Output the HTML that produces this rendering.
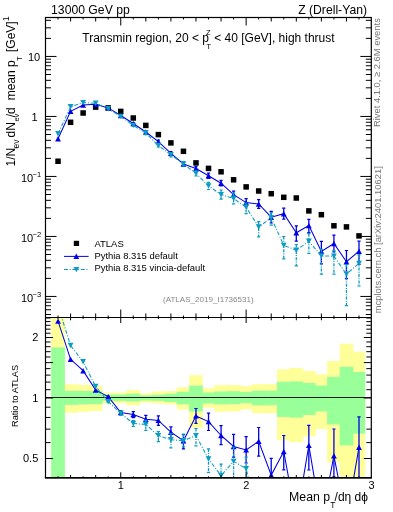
<!DOCTYPE html><html><head><meta charset="utf-8"><style>html,body{margin:0;padding:0;background:#fff;}svg{display:block;will-change:transform;}</style></head><body>
<svg width="393" height="512" viewBox="0 0 393 512">
<rect x="0" y="0" width="393" height="512" fill="#fff"/>
<g>
<rect x="51.22" y="317.50" width="13.64" height="160.50" fill="#ffff99"/>
<rect x="63.76" y="384.20" width="13.64" height="28.70" fill="#ffff99"/>
<rect x="76.30" y="384.90" width="13.64" height="27.00" fill="#ffff99"/>
<rect x="88.84" y="385.80" width="13.64" height="25.20" fill="#ffff99"/>
<rect x="101.38" y="392.40" width="13.64" height="10.80" fill="#ffff99"/>
<rect x="113.92" y="392.40" width="13.64" height="10.80" fill="#ffff99"/>
<rect x="126.46" y="389.90" width="13.64" height="15.50" fill="#ffff99"/>
<rect x="139.00" y="393.40" width="13.64" height="9.20" fill="#ffff99"/>
<rect x="151.54" y="391.40" width="13.64" height="12.20" fill="#ffff99"/>
<rect x="164.08" y="391.00" width="13.64" height="13.40" fill="#ffff99"/>
<rect x="176.62" y="387.20" width="13.64" height="22.30" fill="#ffff99"/>
<rect x="189.16" y="375.10" width="13.64" height="52.60" fill="#ffff99"/>
<rect x="201.70" y="388.20" width="13.64" height="19.40" fill="#ffff99"/>
<rect x="214.24" y="385.10" width="13.64" height="26.50" fill="#ffff99"/>
<rect x="226.78" y="385.00" width="13.64" height="26.50" fill="#ffff99"/>
<rect x="239.32" y="386.00" width="13.64" height="23.40" fill="#ffff99"/>
<rect x="251.86" y="384.20" width="13.64" height="29.00" fill="#ffff99"/>
<rect x="264.40" y="384.20" width="13.64" height="29.00" fill="#ffff99"/>
<rect x="276.94" y="369.40" width="13.64" height="70.80" fill="#ffff99"/>
<rect x="289.48" y="368.00" width="13.64" height="74.00" fill="#ffff99"/>
<rect x="302.02" y="371.00" width="13.64" height="65.30" fill="#ffff99"/>
<rect x="314.56" y="374.20" width="13.64" height="54.80" fill="#ffff99"/>
<rect x="327.10" y="361.00" width="13.64" height="101.30" fill="#ffff99"/>
<rect x="339.64" y="343.70" width="13.64" height="134.30" fill="#ffff99"/>
<rect x="352.18" y="351.60" width="12.99" height="126.40" fill="#ffff99"/>
<rect x="51.22" y="347.40" width="13.64" height="130.60" fill="#99ff99"/>
<rect x="63.76" y="390.90" width="13.64" height="14.00" fill="#99ff99"/>
<rect x="76.30" y="390.90" width="13.64" height="13.60" fill="#99ff99"/>
<rect x="88.84" y="391.20" width="13.64" height="13.00" fill="#99ff99"/>
<rect x="101.38" y="394.60" width="13.64" height="6.20" fill="#99ff99"/>
<rect x="113.92" y="394.60" width="13.64" height="6.20" fill="#99ff99"/>
<rect x="126.46" y="393.70" width="13.64" height="7.80" fill="#99ff99"/>
<rect x="139.00" y="395.40" width="13.64" height="5.10" fill="#99ff99"/>
<rect x="151.54" y="394.80" width="13.64" height="6.00" fill="#99ff99"/>
<rect x="164.08" y="393.80" width="13.64" height="8.10" fill="#99ff99"/>
<rect x="176.62" y="391.80" width="13.64" height="12.60" fill="#99ff99"/>
<rect x="189.16" y="385.60" width="13.64" height="25.90" fill="#99ff99"/>
<rect x="201.70" y="392.50" width="13.64" height="11.00" fill="#99ff99"/>
<rect x="214.24" y="391.50" width="13.64" height="12.90" fill="#99ff99"/>
<rect x="226.78" y="391.20" width="13.64" height="13.10" fill="#99ff99"/>
<rect x="239.32" y="392.00" width="13.64" height="11.30" fill="#99ff99"/>
<rect x="251.86" y="390.70" width="13.64" height="14.60" fill="#99ff99"/>
<rect x="264.40" y="390.70" width="13.64" height="14.60" fill="#99ff99"/>
<rect x="276.94" y="381.80" width="13.64" height="35.10" fill="#99ff99"/>
<rect x="289.48" y="381.40" width="13.64" height="36.20" fill="#99ff99"/>
<rect x="302.02" y="383.00" width="13.64" height="32.00" fill="#99ff99"/>
<rect x="314.56" y="385.50" width="13.64" height="26.00" fill="#99ff99"/>
<rect x="327.10" y="376.80" width="13.64" height="47.70" fill="#99ff99"/>
<rect x="339.64" y="366.70" width="13.64" height="78.70" fill="#99ff99"/>
<rect x="352.18" y="372.00" width="12.99" height="61.70" fill="#99ff99"/>
</g>
<line x1="45.5" y1="397.5" x2="371.3" y2="397.5" stroke="#1a1a1a" stroke-width="1.0"/>
<clipPath id="cr"><rect x="45.5" y="317.5" width="325.8" height="160.3"/></clipPath>
<clipPath id="cm"><rect x="45.5" y="17.5" width="325.8" height="300.0"/></clipPath>
<g clip-path="url(#cr)">
<polyline points="58.04,321.10 70.58,359.30 83.12,370.70 95.66,390.10 108.20,396.60 120.74,412.50 133.28,414.60 145.82,419.30 158.36,420.40 170.90,432.20 183.44,440.70 195.98,415.90 208.52,421.60 221.06,435.50 233.60,446.50 246.14,449.90 258.68,441.20 271.22,475.10 283.76,451.50 296.30,520.00 308.84,445.40 321.38,520.00 333.92,455.80 346.46,520.00 359.00,447.20" fill="none" stroke="#0000e6" stroke-width="1.05"/>

<path d="M55.14,323.80 L60.94,323.80 L58.04,318.40 Z" fill="#0000e6"/>

<path d="M67.68,362.00 L73.48,362.00 L70.58,356.60 Z" fill="#0000e6"/>

<path d="M80.22,373.40 L86.02,373.40 L83.12,368.00 Z" fill="#0000e6"/>

<path d="M92.76,392.80 L98.56,392.80 L95.66,387.40 Z" fill="#0000e6"/>
<line x1="108.20" y1="396.10" x2="108.20" y2="397.10" stroke="#0000e6" stroke-width="1.3"/><line x1="106.60" y1="396.10" x2="109.80" y2="396.10" stroke="#0000e6" stroke-width="1.2"/><line x1="106.60" y1="397.10" x2="109.80" y2="397.10" stroke="#0000e6" stroke-width="1.2"/>
<path d="M105.30,399.30 L111.10,399.30 L108.20,393.90 Z" fill="#0000e6"/>
<line x1="120.74" y1="410.50" x2="120.74" y2="414.50" stroke="#0000e6" stroke-width="1.3"/><line x1="119.14" y1="410.50" x2="122.34" y2="410.50" stroke="#0000e6" stroke-width="1.2"/><line x1="119.14" y1="414.50" x2="122.34" y2="414.50" stroke="#0000e6" stroke-width="1.2"/>
<path d="M117.84,415.20 L123.64,415.20 L120.74,409.80 Z" fill="#0000e6"/>
<line x1="133.28" y1="411.60" x2="133.28" y2="417.60" stroke="#0000e6" stroke-width="1.3"/><line x1="131.68" y1="411.60" x2="134.88" y2="411.60" stroke="#0000e6" stroke-width="1.2"/><line x1="131.68" y1="417.60" x2="134.88" y2="417.60" stroke="#0000e6" stroke-width="1.2"/>
<path d="M130.38,417.30 L136.18,417.30 L133.28,411.90 Z" fill="#0000e6"/>
<line x1="145.82" y1="415.30" x2="145.82" y2="423.30" stroke="#0000e6" stroke-width="1.3"/><line x1="144.22" y1="415.30" x2="147.42" y2="415.30" stroke="#0000e6" stroke-width="1.2"/><line x1="144.22" y1="423.30" x2="147.42" y2="423.30" stroke="#0000e6" stroke-width="1.2"/>
<path d="M142.92,422.00 L148.72,422.00 L145.82,416.60 Z" fill="#0000e6"/>
<line x1="158.36" y1="415.90" x2="158.36" y2="425.40" stroke="#0000e6" stroke-width="1.3"/><line x1="156.76" y1="415.90" x2="159.96" y2="415.90" stroke="#0000e6" stroke-width="1.2"/><line x1="156.76" y1="425.40" x2="159.96" y2="425.40" stroke="#0000e6" stroke-width="1.2"/>
<path d="M155.46,423.10 L161.26,423.10 L158.36,417.70 Z" fill="#0000e6"/>
<line x1="170.90" y1="426.90" x2="170.90" y2="437.70" stroke="#0000e6" stroke-width="1.3"/><line x1="169.30" y1="426.90" x2="172.50" y2="426.90" stroke="#0000e6" stroke-width="1.2"/><line x1="169.30" y1="437.70" x2="172.50" y2="437.70" stroke="#0000e6" stroke-width="1.2"/>
<path d="M168.00,434.90 L173.80,434.90 L170.90,429.50 Z" fill="#0000e6"/>
<line x1="183.44" y1="434.60" x2="183.44" y2="448.90" stroke="#0000e6" stroke-width="1.3"/><line x1="181.84" y1="434.60" x2="185.04" y2="434.60" stroke="#0000e6" stroke-width="1.2"/><line x1="181.84" y1="448.90" x2="185.04" y2="448.90" stroke="#0000e6" stroke-width="1.2"/>
<path d="M180.54,443.40 L186.34,443.40 L183.44,438.00 Z" fill="#0000e6"/>
<line x1="195.98" y1="408.50" x2="195.98" y2="423.40" stroke="#0000e6" stroke-width="1.3"/><line x1="194.38" y1="408.50" x2="197.58" y2="408.50" stroke="#0000e6" stroke-width="1.2"/><line x1="194.38" y1="423.40" x2="197.58" y2="423.40" stroke="#0000e6" stroke-width="1.2"/>
<path d="M193.08,418.60 L198.88,418.60 L195.98,413.20 Z" fill="#0000e6"/>
<line x1="208.52" y1="413.10" x2="208.52" y2="430.50" stroke="#0000e6" stroke-width="1.3"/><line x1="206.92" y1="413.10" x2="210.12" y2="413.10" stroke="#0000e6" stroke-width="1.2"/><line x1="206.92" y1="430.50" x2="210.12" y2="430.50" stroke="#0000e6" stroke-width="1.2"/>
<path d="M205.62,424.30 L211.42,424.30 L208.52,418.90 Z" fill="#0000e6"/>
<line x1="221.06" y1="425.60" x2="221.06" y2="444.70" stroke="#0000e6" stroke-width="1.3"/><line x1="219.46" y1="425.60" x2="222.66" y2="425.60" stroke="#0000e6" stroke-width="1.2"/><line x1="219.46" y1="444.70" x2="222.66" y2="444.70" stroke="#0000e6" stroke-width="1.2"/>
<path d="M218.16,438.20 L223.96,438.20 L221.06,432.80 Z" fill="#0000e6"/>
<line x1="233.60" y1="434.30" x2="233.60" y2="457.20" stroke="#0000e6" stroke-width="1.3"/><line x1="232.00" y1="434.30" x2="235.20" y2="434.30" stroke="#0000e6" stroke-width="1.2"/><line x1="232.00" y1="457.20" x2="235.20" y2="457.20" stroke="#0000e6" stroke-width="1.2"/>
<path d="M230.70,449.20 L236.50,449.20 L233.60,443.80 Z" fill="#0000e6"/>
<line x1="246.14" y1="436.60" x2="246.14" y2="463.00" stroke="#0000e6" stroke-width="1.3"/><line x1="244.54" y1="436.60" x2="247.74" y2="436.60" stroke="#0000e6" stroke-width="1.2"/><line x1="244.54" y1="463.00" x2="247.74" y2="463.00" stroke="#0000e6" stroke-width="1.2"/>
<path d="M243.24,452.60 L249.04,452.60 L246.14,447.20 Z" fill="#0000e6"/>
<line x1="258.68" y1="427.50" x2="258.68" y2="456.10" stroke="#0000e6" stroke-width="1.3"/><line x1="257.08" y1="427.50" x2="260.28" y2="427.50" stroke="#0000e6" stroke-width="1.2"/><line x1="257.08" y1="456.10" x2="260.28" y2="456.10" stroke="#0000e6" stroke-width="1.2"/>
<path d="M255.78,443.90 L261.58,443.90 L258.68,438.50 Z" fill="#0000e6"/>
<line x1="271.22" y1="458.40" x2="271.22" y2="495.10" stroke="#0000e6" stroke-width="1.3"/><line x1="269.62" y1="458.40" x2="272.82" y2="458.40" stroke="#0000e6" stroke-width="1.2"/><line x1="269.62" y1="495.10" x2="272.82" y2="495.10" stroke="#0000e6" stroke-width="1.2"/>
<path d="M268.32,477.80 L274.12,477.80 L271.22,472.40 Z" fill="#0000e6"/>
<line x1="283.76" y1="435.50" x2="283.76" y2="469.80" stroke="#0000e6" stroke-width="1.3"/><line x1="282.16" y1="435.50" x2="285.36" y2="435.50" stroke="#0000e6" stroke-width="1.2"/><line x1="282.16" y1="469.80" x2="285.36" y2="469.80" stroke="#0000e6" stroke-width="1.2"/>
<path d="M280.86,454.20 L286.66,454.20 L283.76,448.80 Z" fill="#0000e6"/>
<line x1="308.84" y1="425.40" x2="308.84" y2="470.00" stroke="#0000e6" stroke-width="1.3"/><line x1="307.24" y1="425.40" x2="310.44" y2="425.40" stroke="#0000e6" stroke-width="1.2"/><line x1="307.24" y1="470.00" x2="310.44" y2="470.00" stroke="#0000e6" stroke-width="1.2"/>
<path d="M305.94,448.10 L311.74,448.10 L308.84,442.70 Z" fill="#0000e6"/>
<line x1="333.92" y1="429.00" x2="333.92" y2="476.80" stroke="#0000e6" stroke-width="1.3"/><line x1="332.32" y1="429.00" x2="335.52" y2="429.00" stroke="#0000e6" stroke-width="1.2"/><line x1="332.32" y1="476.80" x2="335.52" y2="476.80" stroke="#0000e6" stroke-width="1.2"/>
<path d="M331.02,458.50 L336.82,458.50 L333.92,453.10 Z" fill="#0000e6"/>
<line x1="359.00" y1="416.90" x2="359.00" y2="487.20" stroke="#0000e6" stroke-width="1.3"/><line x1="357.40" y1="416.90" x2="360.60" y2="416.90" stroke="#0000e6" stroke-width="1.2"/><line x1="357.40" y1="487.20" x2="360.60" y2="487.20" stroke="#0000e6" stroke-width="1.2"/>
<path d="M356.10,449.90 L361.90,449.90 L359.00,444.50 Z" fill="#0000e6"/>
<polyline points="58.04,305.90 70.58,345.50 83.12,361.80 95.66,386.50 108.20,401.70 120.74,413.30 133.28,423.50 145.82,424.40 158.36,435.60 170.90,439.70 183.44,440.70 195.98,435.60 208.52,459.00 221.06,475.60 233.60,461.40 246.14,468.70 258.68,518.60 271.22,478.40 283.76,500.00 296.30,500.00 308.84,500.00 321.38,500.00 333.92,500.00 346.46,500.00 359.00,500.00" fill="none" stroke="#0c9cc2" stroke-width="1.05" stroke-dasharray="4,1.7,1,1.7"/>

<path d="M67.68,342.80 L73.48,342.80 L70.58,348.20 Z" fill="#0c9cc2"/>

<path d="M80.22,359.10 L86.02,359.10 L83.12,364.50 Z" fill="#0c9cc2"/>

<path d="M92.76,383.80 L98.56,383.80 L95.66,389.20 Z" fill="#0c9cc2"/>
<line x1="108.20" y1="401.20" x2="108.20" y2="402.20" stroke="#0c9cc2" stroke-width="1.3" stroke-dasharray="3,1.2,1,1.2"/><line x1="106.60" y1="401.20" x2="109.80" y2="401.20" stroke="#0c9cc2" stroke-width="1.2"/><line x1="106.60" y1="402.20" x2="109.80" y2="402.20" stroke="#0c9cc2" stroke-width="1.2"/>
<path d="M105.30,399.00 L111.10,399.00 L108.20,404.40 Z" fill="#0c9cc2"/>
<line x1="120.74" y1="411.30" x2="120.74" y2="415.30" stroke="#0c9cc2" stroke-width="1.3" stroke-dasharray="3,1.2,1,1.2"/><line x1="119.14" y1="411.30" x2="122.34" y2="411.30" stroke="#0c9cc2" stroke-width="1.2"/><line x1="119.14" y1="415.30" x2="122.34" y2="415.30" stroke="#0c9cc2" stroke-width="1.2"/>
<path d="M117.84,410.60 L123.64,410.60 L120.74,416.00 Z" fill="#0c9cc2"/>
<line x1="133.28" y1="420.50" x2="133.28" y2="426.50" stroke="#0c9cc2" stroke-width="1.3" stroke-dasharray="3,1.2,1,1.2"/><line x1="131.68" y1="420.50" x2="134.88" y2="420.50" stroke="#0c9cc2" stroke-width="1.2"/><line x1="131.68" y1="426.50" x2="134.88" y2="426.50" stroke="#0c9cc2" stroke-width="1.2"/>
<path d="M130.38,420.80 L136.18,420.80 L133.28,426.20 Z" fill="#0c9cc2"/>
<line x1="145.82" y1="420.40" x2="145.82" y2="430.50" stroke="#0c9cc2" stroke-width="1.3" stroke-dasharray="3,1.2,1,1.2"/><line x1="144.22" y1="420.40" x2="147.42" y2="420.40" stroke="#0c9cc2" stroke-width="1.2"/><line x1="144.22" y1="430.50" x2="147.42" y2="430.50" stroke="#0c9cc2" stroke-width="1.2"/>
<path d="M142.92,421.70 L148.72,421.70 L145.82,427.10 Z" fill="#0c9cc2"/>
<line x1="158.36" y1="431.60" x2="158.36" y2="441.70" stroke="#0c9cc2" stroke-width="1.3" stroke-dasharray="3,1.2,1,1.2"/><line x1="156.76" y1="431.60" x2="159.96" y2="431.60" stroke="#0c9cc2" stroke-width="1.2"/><line x1="156.76" y1="441.70" x2="159.96" y2="441.70" stroke="#0c9cc2" stroke-width="1.2"/>
<path d="M155.46,432.90 L161.26,432.90 L158.36,438.30 Z" fill="#0c9cc2"/>
<line x1="170.90" y1="433.60" x2="170.90" y2="447.80" stroke="#0c9cc2" stroke-width="1.3" stroke-dasharray="3,1.2,1,1.2"/><line x1="169.30" y1="433.60" x2="172.50" y2="433.60" stroke="#0c9cc2" stroke-width="1.2"/><line x1="169.30" y1="447.80" x2="172.50" y2="447.80" stroke="#0c9cc2" stroke-width="1.2"/>
<path d="M168.00,437.00 L173.80,437.00 L170.90,442.40 Z" fill="#0c9cc2"/>
<line x1="183.44" y1="434.20" x2="183.44" y2="446.80" stroke="#0c9cc2" stroke-width="1.3" stroke-dasharray="3,1.2,1,1.2"/><line x1="181.84" y1="434.20" x2="185.04" y2="434.20" stroke="#0c9cc2" stroke-width="1.2"/><line x1="181.84" y1="446.80" x2="185.04" y2="446.80" stroke="#0c9cc2" stroke-width="1.2"/>
<path d="M180.54,438.00 L186.34,438.00 L183.44,443.40 Z" fill="#0c9cc2"/>
<line x1="195.98" y1="428.50" x2="195.98" y2="445.80" stroke="#0c9cc2" stroke-width="1.3" stroke-dasharray="3,1.2,1,1.2"/><line x1="194.38" y1="428.50" x2="197.58" y2="428.50" stroke="#0c9cc2" stroke-width="1.2"/><line x1="194.38" y1="445.80" x2="197.58" y2="445.80" stroke="#0c9cc2" stroke-width="1.2"/>
<path d="M193.08,432.90 L198.88,432.90 L195.98,438.30 Z" fill="#0c9cc2"/>
<line x1="208.52" y1="448.90" x2="208.52" y2="472.30" stroke="#0c9cc2" stroke-width="1.3" stroke-dasharray="3,1.2,1,1.2"/><line x1="206.92" y1="448.90" x2="210.12" y2="448.90" stroke="#0c9cc2" stroke-width="1.2"/><line x1="206.92" y1="472.30" x2="210.12" y2="472.30" stroke="#0c9cc2" stroke-width="1.2"/>
<path d="M205.62,456.30 L211.42,456.30 L208.52,461.70 Z" fill="#0c9cc2"/>
<line x1="221.06" y1="464.10" x2="221.06" y2="495.60" stroke="#0c9cc2" stroke-width="1.3" stroke-dasharray="3,1.2,1,1.2"/><line x1="219.46" y1="464.10" x2="222.66" y2="464.10" stroke="#0c9cc2" stroke-width="1.2"/><line x1="219.46" y1="495.60" x2="222.66" y2="495.60" stroke="#0c9cc2" stroke-width="1.2"/>
<path d="M218.16,472.90 L223.96,472.90 L221.06,478.30 Z" fill="#0c9cc2"/>
<line x1="233.60" y1="447.00" x2="233.60" y2="481.40" stroke="#0c9cc2" stroke-width="1.3" stroke-dasharray="3,1.2,1,1.2"/><line x1="232.00" y1="447.00" x2="235.20" y2="447.00" stroke="#0c9cc2" stroke-width="1.2"/><line x1="232.00" y1="481.40" x2="235.20" y2="481.40" stroke="#0c9cc2" stroke-width="1.2"/>
<path d="M230.70,458.70 L236.50,458.70 L233.60,464.10 Z" fill="#0c9cc2"/>
<line x1="246.14" y1="457.20" x2="246.14" y2="488.70" stroke="#0c9cc2" stroke-width="1.3" stroke-dasharray="3,1.2,1,1.2"/><line x1="244.54" y1="457.20" x2="247.74" y2="457.20" stroke="#0c9cc2" stroke-width="1.2"/><line x1="244.54" y1="488.70" x2="247.74" y2="488.70" stroke="#0c9cc2" stroke-width="1.2"/>
<path d="M243.24,466.00 L249.04,466.00 L246.14,471.40 Z" fill="#0c9cc2"/>
</g>
<g clip-path="url(#cm)">
<rect x="55.29" y="158.50" width="5.5" height="5.5" fill="#000"/>
<rect x="67.83" y="119.55" width="5.5" height="5.5" fill="#000"/>
<rect x="80.37" y="110.25" width="5.5" height="5.5" fill="#000"/>
<rect x="92.91" y="104.35" width="5.5" height="5.5" fill="#000"/>
<rect x="105.45" y="105.15" width="5.5" height="5.5" fill="#000"/>
<rect x="117.99" y="108.65" width="5.5" height="5.5" fill="#000"/>
<rect x="130.53" y="115.25" width="5.5" height="5.5" fill="#000"/>
<rect x="143.07" y="122.65" width="5.5" height="5.5" fill="#000"/>
<rect x="155.61" y="131.85" width="5.5" height="5.5" fill="#000"/>
<rect x="168.15" y="140.15" width="5.5" height="5.5" fill="#000"/>
<rect x="180.69" y="148.55" width="5.5" height="5.5" fill="#000"/>
<rect x="193.23" y="160.15" width="5.5" height="5.5" fill="#000"/>
<rect x="205.77" y="165.65" width="5.5" height="5.5" fill="#000"/>
<rect x="218.31" y="169.05" width="5.5" height="5.5" fill="#000"/>
<rect x="230.85" y="177.05" width="5.5" height="5.5" fill="#000"/>
<rect x="243.39" y="184.15" width="5.5" height="5.5" fill="#000"/>
<rect x="255.93" y="188.25" width="5.5" height="5.5" fill="#000"/>
<rect x="268.47" y="190.95" width="5.5" height="5.5" fill="#000"/>
<rect x="281.01" y="194.55" width="5.5" height="5.5" fill="#000"/>
<rect x="293.55" y="195.25" width="5.5" height="5.5" fill="#000"/>
<rect x="306.09" y="208.15" width="5.5" height="5.5" fill="#000"/>
<rect x="318.63" y="211.95" width="5.5" height="5.5" fill="#000"/>
<rect x="331.17" y="223.05" width="5.5" height="5.5" fill="#000"/>
<rect x="343.71" y="224.15" width="5.5" height="5.5" fill="#000"/>
<rect x="356.25" y="233.15" width="5.5" height="5.5" fill="#000"/>
<polyline points="58.04,138.80 70.58,111.30 83.12,105.00 95.66,104.30 108.20,107.90 120.74,115.50 133.28,123.50 145.82,132.00 158.36,141.60 170.90,153.30 183.44,164.00 195.98,168.50 208.52,175.70 221.06,183.20 233.60,194.60 246.14,202.60 258.68,204.00 271.22,217.20 283.76,213.70 296.30,232.80 308.84,225.60 321.38,251.40 333.92,243.50 346.46,261.70 359.00,251.20" fill="none" stroke="#0000e6" stroke-width="1.05"/>

<path d="M55.14,141.50 L60.94,141.50 L58.04,136.10 Z" fill="#0000e6"/>

<path d="M67.68,114.00 L73.48,114.00 L70.58,108.60 Z" fill="#0000e6"/>

<path d="M80.22,107.70 L86.02,107.70 L83.12,102.30 Z" fill="#0000e6"/>

<path d="M92.76,107.00 L98.56,107.00 L95.66,101.60 Z" fill="#0000e6"/>

<path d="M105.30,110.60 L111.10,110.60 L108.20,105.20 Z" fill="#0000e6"/>
<line x1="120.74" y1="114.70" x2="120.74" y2="116.30" stroke="#0000e6" stroke-width="1.3"/><line x1="119.14" y1="114.70" x2="122.34" y2="114.70" stroke="#0000e6" stroke-width="1.2"/><line x1="119.14" y1="116.30" x2="122.34" y2="116.30" stroke="#0000e6" stroke-width="1.2"/>
<path d="M117.84,118.20 L123.64,118.20 L120.74,112.80 Z" fill="#0000e6"/>
<line x1="133.28" y1="122.50" x2="133.28" y2="124.50" stroke="#0000e6" stroke-width="1.3"/><line x1="131.68" y1="122.50" x2="134.88" y2="122.50" stroke="#0000e6" stroke-width="1.2"/><line x1="131.68" y1="124.50" x2="134.88" y2="124.50" stroke="#0000e6" stroke-width="1.2"/>
<path d="M130.38,126.20 L136.18,126.20 L133.28,120.80 Z" fill="#0000e6"/>
<line x1="145.82" y1="130.80" x2="145.82" y2="133.20" stroke="#0000e6" stroke-width="1.3"/><line x1="144.22" y1="130.80" x2="147.42" y2="130.80" stroke="#0000e6" stroke-width="1.2"/><line x1="144.22" y1="133.20" x2="147.42" y2="133.20" stroke="#0000e6" stroke-width="1.2"/>
<path d="M142.92,134.70 L148.72,134.70 L145.82,129.30 Z" fill="#0000e6"/>
<line x1="158.36" y1="140.20" x2="158.36" y2="143.00" stroke="#0000e6" stroke-width="1.3"/><line x1="156.76" y1="140.20" x2="159.96" y2="140.20" stroke="#0000e6" stroke-width="1.2"/><line x1="156.76" y1="143.00" x2="159.96" y2="143.00" stroke="#0000e6" stroke-width="1.2"/>
<path d="M155.46,144.30 L161.26,144.30 L158.36,138.90 Z" fill="#0000e6"/>
<line x1="170.90" y1="151.70" x2="170.90" y2="154.90" stroke="#0000e6" stroke-width="1.3"/><line x1="169.30" y1="151.70" x2="172.50" y2="151.70" stroke="#0000e6" stroke-width="1.2"/><line x1="169.30" y1="154.90" x2="172.50" y2="154.90" stroke="#0000e6" stroke-width="1.2"/>
<path d="M168.00,156.00 L173.80,156.00 L170.90,150.60 Z" fill="#0000e6"/>
<line x1="183.44" y1="161.90" x2="183.44" y2="166.10" stroke="#0000e6" stroke-width="1.3"/><line x1="181.84" y1="161.90" x2="185.04" y2="161.90" stroke="#0000e6" stroke-width="1.2"/><line x1="181.84" y1="166.10" x2="185.04" y2="166.10" stroke="#0000e6" stroke-width="1.2"/>
<path d="M180.54,166.70 L186.34,166.70 L183.44,161.30 Z" fill="#0000e6"/>
<line x1="195.98" y1="166.30" x2="195.98" y2="170.70" stroke="#0000e6" stroke-width="1.3"/><line x1="194.38" y1="166.30" x2="197.58" y2="166.30" stroke="#0000e6" stroke-width="1.2"/><line x1="194.38" y1="170.70" x2="197.58" y2="170.70" stroke="#0000e6" stroke-width="1.2"/>
<path d="M193.08,171.20 L198.88,171.20 L195.98,165.80 Z" fill="#0000e6"/>
<line x1="208.52" y1="173.10" x2="208.52" y2="178.30" stroke="#0000e6" stroke-width="1.3"/><line x1="206.92" y1="173.10" x2="210.12" y2="173.10" stroke="#0000e6" stroke-width="1.2"/><line x1="206.92" y1="178.30" x2="210.12" y2="178.30" stroke="#0000e6" stroke-width="1.2"/>
<path d="M205.62,178.40 L211.42,178.40 L208.52,173.00 Z" fill="#0000e6"/>
<line x1="221.06" y1="180.40" x2="221.06" y2="186.00" stroke="#0000e6" stroke-width="1.3"/><line x1="219.46" y1="180.40" x2="222.66" y2="180.40" stroke="#0000e6" stroke-width="1.2"/><line x1="219.46" y1="186.00" x2="222.66" y2="186.00" stroke="#0000e6" stroke-width="1.2"/>
<path d="M218.16,185.90 L223.96,185.90 L221.06,180.50 Z" fill="#0000e6"/>
<line x1="233.60" y1="191.20" x2="233.60" y2="198.00" stroke="#0000e6" stroke-width="1.3"/><line x1="232.00" y1="191.20" x2="235.20" y2="191.20" stroke="#0000e6" stroke-width="1.2"/><line x1="232.00" y1="198.00" x2="235.20" y2="198.00" stroke="#0000e6" stroke-width="1.2"/>
<path d="M230.70,197.30 L236.50,197.30 L233.60,191.90 Z" fill="#0000e6"/>
<line x1="246.14" y1="198.60" x2="246.14" y2="206.60" stroke="#0000e6" stroke-width="1.3"/><line x1="244.54" y1="198.60" x2="247.74" y2="198.60" stroke="#0000e6" stroke-width="1.2"/><line x1="244.54" y1="206.60" x2="247.74" y2="206.60" stroke="#0000e6" stroke-width="1.2"/>
<path d="M243.24,205.30 L249.04,205.30 L246.14,199.90 Z" fill="#0000e6"/>
<line x1="258.68" y1="199.60" x2="258.68" y2="208.40" stroke="#0000e6" stroke-width="1.3"/><line x1="257.08" y1="199.60" x2="260.28" y2="199.60" stroke="#0000e6" stroke-width="1.2"/><line x1="257.08" y1="208.40" x2="260.28" y2="208.40" stroke="#0000e6" stroke-width="1.2"/>
<path d="M255.78,206.70 L261.58,206.70 L258.68,201.30 Z" fill="#0000e6"/>
<line x1="271.22" y1="211.40" x2="271.22" y2="223.00" stroke="#0000e6" stroke-width="1.3"/><line x1="269.62" y1="211.40" x2="272.82" y2="211.40" stroke="#0000e6" stroke-width="1.2"/><line x1="269.62" y1="223.00" x2="272.82" y2="223.00" stroke="#0000e6" stroke-width="1.2"/>
<path d="M268.32,219.90 L274.12,219.90 L271.22,214.50 Z" fill="#0000e6"/>
<line x1="283.76" y1="208.10" x2="283.76" y2="219.10" stroke="#0000e6" stroke-width="1.3"/><line x1="282.16" y1="208.10" x2="285.36" y2="208.10" stroke="#0000e6" stroke-width="1.2"/><line x1="282.16" y1="219.10" x2="285.36" y2="219.10" stroke="#0000e6" stroke-width="1.2"/>
<path d="M280.86,216.40 L286.66,216.40 L283.76,211.00 Z" fill="#0000e6"/>
<line x1="296.30" y1="225.80" x2="296.30" y2="241.20" stroke="#0000e6" stroke-width="1.3"/><line x1="294.70" y1="225.80" x2="297.90" y2="225.80" stroke="#0000e6" stroke-width="1.2"/><line x1="294.70" y1="241.20" x2="297.90" y2="241.20" stroke="#0000e6" stroke-width="1.2"/>
<path d="M293.40,235.50 L299.20,235.50 L296.30,230.10 Z" fill="#0000e6"/>
<line x1="308.84" y1="219.40" x2="308.84" y2="232.60" stroke="#0000e6" stroke-width="1.3"/><line x1="307.24" y1="219.40" x2="310.44" y2="219.40" stroke="#0000e6" stroke-width="1.2"/><line x1="307.24" y1="232.60" x2="310.44" y2="232.60" stroke="#0000e6" stroke-width="1.2"/>
<path d="M305.94,228.30 L311.74,228.30 L308.84,222.90 Z" fill="#0000e6"/>
<line x1="321.38" y1="241.40" x2="321.38" y2="263.80" stroke="#0000e6" stroke-width="1.3"/><line x1="319.78" y1="241.40" x2="322.98" y2="241.40" stroke="#0000e6" stroke-width="1.2"/><line x1="319.78" y1="263.80" x2="322.98" y2="263.80" stroke="#0000e6" stroke-width="1.2"/>
<path d="M318.48,254.10 L324.28,254.10 L321.38,248.70 Z" fill="#0000e6"/>
<line x1="333.92" y1="235.10" x2="333.92" y2="251.90" stroke="#0000e6" stroke-width="1.3"/><line x1="332.32" y1="235.10" x2="335.52" y2="235.10" stroke="#0000e6" stroke-width="1.2"/><line x1="332.32" y1="251.90" x2="335.52" y2="251.90" stroke="#0000e6" stroke-width="1.2"/>
<path d="M331.02,246.20 L336.82,246.20 L333.92,240.80 Z" fill="#0000e6"/>
<line x1="346.46" y1="250.50" x2="346.46" y2="278.70" stroke="#0000e6" stroke-width="1.3"/><line x1="344.86" y1="250.50" x2="348.06" y2="250.50" stroke="#0000e6" stroke-width="1.2"/><line x1="344.86" y1="278.70" x2="348.06" y2="278.70" stroke="#0000e6" stroke-width="1.2"/>
<path d="M343.56,264.40 L349.36,264.40 L346.46,259.00 Z" fill="#0000e6"/>
<line x1="359.00" y1="241.20" x2="359.00" y2="264.40" stroke="#0000e6" stroke-width="1.3"/><line x1="357.40" y1="241.20" x2="360.60" y2="241.20" stroke="#0000e6" stroke-width="1.2"/><line x1="357.40" y1="264.40" x2="360.60" y2="264.40" stroke="#0000e6" stroke-width="1.2"/>
<path d="M356.10,253.90 L361.90,253.90 L359.00,248.50 Z" fill="#0000e6"/>
<polyline points="58.04,133.70 70.58,106.80 83.12,102.60 95.66,103.20 108.20,108.80 120.74,116.40 133.28,125.40 145.82,133.00 158.36,145.50 170.90,154.80 183.44,164.00 195.98,173.40 208.52,185.90 221.06,194.60 233.60,198.50 246.14,207.30 258.68,227.00 271.22,217.70 283.76,245.40 296.30,250.20 308.84,241.30 321.38,255.90 333.92,256.20 346.46,274.10 359.00,263.40" fill="none" stroke="#0c9cc2" stroke-width="1.05" stroke-dasharray="4,1.7,1,1.7"/>

<path d="M55.14,131.00 L60.94,131.00 L58.04,136.40 Z" fill="#0c9cc2"/>

<path d="M67.68,104.10 L73.48,104.10 L70.58,109.50 Z" fill="#0c9cc2"/>

<path d="M80.22,99.90 L86.02,99.90 L83.12,105.30 Z" fill="#0c9cc2"/>

<path d="M92.76,100.50 L98.56,100.50 L95.66,105.90 Z" fill="#0c9cc2"/>

<path d="M105.30,106.10 L111.10,106.10 L108.20,111.50 Z" fill="#0c9cc2"/>
<line x1="120.74" y1="115.60" x2="120.74" y2="117.20" stroke="#0c9cc2" stroke-width="1.3" stroke-dasharray="3,1.2,1,1.2"/><line x1="119.14" y1="115.60" x2="122.34" y2="115.60" stroke="#0c9cc2" stroke-width="1.2"/><line x1="119.14" y1="117.20" x2="122.34" y2="117.20" stroke="#0c9cc2" stroke-width="1.2"/>
<path d="M117.84,113.70 L123.64,113.70 L120.74,119.10 Z" fill="#0c9cc2"/>
<line x1="133.28" y1="124.40" x2="133.28" y2="126.40" stroke="#0c9cc2" stroke-width="1.3" stroke-dasharray="3,1.2,1,1.2"/><line x1="131.68" y1="124.40" x2="134.88" y2="124.40" stroke="#0c9cc2" stroke-width="1.2"/><line x1="131.68" y1="126.40" x2="134.88" y2="126.40" stroke="#0c9cc2" stroke-width="1.2"/>
<path d="M130.38,122.70 L136.18,122.70 L133.28,128.10 Z" fill="#0c9cc2"/>
<line x1="145.82" y1="131.80" x2="145.82" y2="134.60" stroke="#0c9cc2" stroke-width="1.3" stroke-dasharray="3,1.2,1,1.2"/><line x1="144.22" y1="131.80" x2="147.42" y2="131.80" stroke="#0c9cc2" stroke-width="1.2"/><line x1="144.22" y1="134.60" x2="147.42" y2="134.60" stroke="#0c9cc2" stroke-width="1.2"/>
<path d="M142.92,130.30 L148.72,130.30 L145.82,135.70 Z" fill="#0c9cc2"/>
<line x1="158.36" y1="144.00" x2="158.36" y2="147.00" stroke="#0c9cc2" stroke-width="1.3" stroke-dasharray="3,1.2,1,1.2"/><line x1="156.76" y1="144.00" x2="159.96" y2="144.00" stroke="#0c9cc2" stroke-width="1.2"/><line x1="156.76" y1="147.00" x2="159.96" y2="147.00" stroke="#0c9cc2" stroke-width="1.2"/>
<path d="M155.46,142.80 L161.26,142.80 L158.36,148.20 Z" fill="#0c9cc2"/>
<line x1="170.90" y1="152.80" x2="170.90" y2="156.80" stroke="#0c9cc2" stroke-width="1.3" stroke-dasharray="3,1.2,1,1.2"/><line x1="169.30" y1="152.80" x2="172.50" y2="152.80" stroke="#0c9cc2" stroke-width="1.2"/><line x1="169.30" y1="156.80" x2="172.50" y2="156.80" stroke="#0c9cc2" stroke-width="1.2"/>
<path d="M168.00,152.10 L173.80,152.10 L170.90,157.50 Z" fill="#0c9cc2"/>
<line x1="183.44" y1="162.10" x2="183.44" y2="165.90" stroke="#0c9cc2" stroke-width="1.3" stroke-dasharray="3,1.2,1,1.2"/><line x1="181.84" y1="162.10" x2="185.04" y2="162.10" stroke="#0c9cc2" stroke-width="1.2"/><line x1="181.84" y1="165.90" x2="185.04" y2="165.90" stroke="#0c9cc2" stroke-width="1.2"/>
<path d="M180.54,161.30 L186.34,161.30 L183.44,166.70 Z" fill="#0c9cc2"/>
<line x1="195.98" y1="170.80" x2="195.98" y2="176.00" stroke="#0c9cc2" stroke-width="1.3" stroke-dasharray="3,1.2,1,1.2"/><line x1="194.38" y1="170.80" x2="197.58" y2="170.80" stroke="#0c9cc2" stroke-width="1.2"/><line x1="194.38" y1="176.00" x2="197.58" y2="176.00" stroke="#0c9cc2" stroke-width="1.2"/>
<path d="M193.08,170.70 L198.88,170.70 L195.98,176.10 Z" fill="#0c9cc2"/>
<line x1="208.52" y1="182.30" x2="208.52" y2="189.50" stroke="#0c9cc2" stroke-width="1.3" stroke-dasharray="3,1.2,1,1.2"/><line x1="206.92" y1="182.30" x2="210.12" y2="182.30" stroke="#0c9cc2" stroke-width="1.2"/><line x1="206.92" y1="189.50" x2="210.12" y2="189.50" stroke="#0c9cc2" stroke-width="1.2"/>
<path d="M205.62,183.20 L211.42,183.20 L208.52,188.60 Z" fill="#0c9cc2"/>
<line x1="221.06" y1="190.00" x2="221.06" y2="199.20" stroke="#0c9cc2" stroke-width="1.3" stroke-dasharray="3,1.2,1,1.2"/><line x1="219.46" y1="190.00" x2="222.66" y2="190.00" stroke="#0c9cc2" stroke-width="1.2"/><line x1="219.46" y1="199.20" x2="222.66" y2="199.20" stroke="#0c9cc2" stroke-width="1.2"/>
<path d="M218.16,191.90 L223.96,191.90 L221.06,197.30 Z" fill="#0c9cc2"/>
<line x1="233.60" y1="193.20" x2="233.60" y2="203.80" stroke="#0c9cc2" stroke-width="1.3" stroke-dasharray="3,1.2,1,1.2"/><line x1="232.00" y1="193.20" x2="235.20" y2="193.20" stroke="#0c9cc2" stroke-width="1.2"/><line x1="232.00" y1="203.80" x2="235.20" y2="203.80" stroke="#0c9cc2" stroke-width="1.2"/>
<path d="M230.70,195.80 L236.50,195.80 L233.60,201.20 Z" fill="#0c9cc2"/>
<line x1="246.14" y1="203.00" x2="246.14" y2="213.60" stroke="#0c9cc2" stroke-width="1.3" stroke-dasharray="3,1.2,1,1.2"/><line x1="244.54" y1="203.00" x2="247.74" y2="203.00" stroke="#0c9cc2" stroke-width="1.2"/><line x1="244.54" y1="213.60" x2="247.74" y2="213.60" stroke="#0c9cc2" stroke-width="1.2"/>
<path d="M243.24,204.60 L249.04,204.60 L246.14,210.00 Z" fill="#0c9cc2"/>
<line x1="258.68" y1="221.70" x2="258.68" y2="236.80" stroke="#0c9cc2" stroke-width="1.3" stroke-dasharray="3,1.2,1,1.2"/><line x1="257.08" y1="221.70" x2="260.28" y2="221.70" stroke="#0c9cc2" stroke-width="1.2"/><line x1="257.08" y1="236.80" x2="260.28" y2="236.80" stroke="#0c9cc2" stroke-width="1.2"/>
<path d="M255.78,224.30 L261.58,224.30 L258.68,229.70 Z" fill="#0c9cc2"/>
<line x1="271.22" y1="212.70" x2="271.22" y2="225.20" stroke="#0c9cc2" stroke-width="1.3" stroke-dasharray="3,1.2,1,1.2"/><line x1="269.62" y1="212.70" x2="272.82" y2="212.70" stroke="#0c9cc2" stroke-width="1.2"/><line x1="269.62" y1="225.20" x2="272.82" y2="225.20" stroke="#0c9cc2" stroke-width="1.2"/>
<path d="M268.32,215.00 L274.12,215.00 L271.22,220.40 Z" fill="#0c9cc2"/>
<line x1="283.76" y1="236.50" x2="283.76" y2="258.80" stroke="#0c9cc2" stroke-width="1.3" stroke-dasharray="3,1.2,1,1.2"/><line x1="282.16" y1="236.50" x2="285.36" y2="236.50" stroke="#0c9cc2" stroke-width="1.2"/><line x1="282.16" y1="258.80" x2="285.36" y2="258.80" stroke="#0c9cc2" stroke-width="1.2"/>
<path d="M280.86,242.70 L286.66,242.70 L283.76,248.10 Z" fill="#0c9cc2"/>
<line x1="296.30" y1="244.50" x2="296.30" y2="265.90" stroke="#0c9cc2" stroke-width="1.3" stroke-dasharray="3,1.2,1,1.2"/><line x1="294.70" y1="244.50" x2="297.90" y2="244.50" stroke="#0c9cc2" stroke-width="1.2"/><line x1="294.70" y1="265.90" x2="297.90" y2="265.90" stroke="#0c9cc2" stroke-width="1.2"/>
<path d="M293.40,247.50 L299.20,247.50 L296.30,252.90 Z" fill="#0c9cc2"/>
<line x1="308.84" y1="233.70" x2="308.84" y2="253.40" stroke="#0c9cc2" stroke-width="1.3" stroke-dasharray="3,1.2,1,1.2"/><line x1="307.24" y1="233.70" x2="310.44" y2="233.70" stroke="#0c9cc2" stroke-width="1.2"/><line x1="307.24" y1="253.40" x2="310.44" y2="253.40" stroke="#0c9cc2" stroke-width="1.2"/>
<path d="M305.94,238.60 L311.74,238.60 L308.84,244.00 Z" fill="#0c9cc2"/>
<line x1="321.38" y1="249.40" x2="321.38" y2="274.10" stroke="#0c9cc2" stroke-width="1.3" stroke-dasharray="3,1.2,1,1.2"/><line x1="319.78" y1="249.40" x2="322.98" y2="249.40" stroke="#0c9cc2" stroke-width="1.2"/><line x1="319.78" y1="274.10" x2="322.98" y2="274.10" stroke="#0c9cc2" stroke-width="1.2"/>
<path d="M318.48,253.20 L324.28,253.20 L321.38,258.60 Z" fill="#0c9cc2"/>
<line x1="333.92" y1="250.50" x2="333.92" y2="274.10" stroke="#0c9cc2" stroke-width="1.3" stroke-dasharray="3,1.2,1,1.2"/><line x1="332.32" y1="250.50" x2="335.52" y2="250.50" stroke="#0c9cc2" stroke-width="1.2"/><line x1="332.32" y1="274.10" x2="335.52" y2="274.10" stroke="#0c9cc2" stroke-width="1.2"/>
<path d="M331.02,253.50 L336.82,253.50 L333.92,258.90 Z" fill="#0c9cc2"/>
<line x1="346.46" y1="264.50" x2="346.46" y2="305.70" stroke="#0c9cc2" stroke-width="1.3" stroke-dasharray="3,1.2,1,1.2"/><line x1="344.86" y1="264.50" x2="348.06" y2="264.50" stroke="#0c9cc2" stroke-width="1.2"/><line x1="344.86" y1="305.70" x2="348.06" y2="305.70" stroke="#0c9cc2" stroke-width="1.2"/>
<path d="M343.56,271.40 L349.36,271.40 L346.46,276.80 Z" fill="#0c9cc2"/>
<line x1="359.00" y1="254.80" x2="359.00" y2="286.00" stroke="#0c9cc2" stroke-width="1.3" stroke-dasharray="3,1.2,1,1.2"/><line x1="357.40" y1="254.80" x2="360.60" y2="254.80" stroke="#0c9cc2" stroke-width="1.2"/><line x1="357.40" y1="286.00" x2="360.60" y2="286.00" stroke="#0c9cc2" stroke-width="1.2"/>
<path d="M356.10,260.70 L361.90,260.70 L359.00,266.10 Z" fill="#0c9cc2"/>
</g>
<g><line x1="45.50" y1="314.51" x2="51.00" y2="314.51" stroke="#000" stroke-width="1.0"/><line x1="365.80" y1="314.51" x2="371.30" y2="314.51" stroke="#000" stroke-width="1.0"/><line x1="45.50" y1="309.76" x2="51.00" y2="309.76" stroke="#000" stroke-width="1.0"/><line x1="365.80" y1="309.76" x2="371.30" y2="309.76" stroke="#000" stroke-width="1.0"/><line x1="45.50" y1="305.74" x2="51.00" y2="305.74" stroke="#000" stroke-width="1.0"/><line x1="365.80" y1="305.74" x2="371.30" y2="305.74" stroke="#000" stroke-width="1.0"/><line x1="45.50" y1="302.26" x2="51.00" y2="302.26" stroke="#000" stroke-width="1.0"/><line x1="365.80" y1="302.26" x2="371.30" y2="302.26" stroke="#000" stroke-width="1.0"/><line x1="45.50" y1="299.20" x2="51.00" y2="299.20" stroke="#000" stroke-width="1.0"/><line x1="365.80" y1="299.20" x2="371.30" y2="299.20" stroke="#000" stroke-width="1.0"/><line x1="45.50" y1="296.45" x2="56.50" y2="296.45" stroke="#000" stroke-width="1.0"/><line x1="360.30" y1="296.45" x2="371.30" y2="296.45" stroke="#000" stroke-width="1.0"/><line x1="45.50" y1="278.39" x2="51.00" y2="278.39" stroke="#000" stroke-width="1.0"/><line x1="365.80" y1="278.39" x2="371.30" y2="278.39" stroke="#000" stroke-width="1.0"/><line x1="45.50" y1="267.82" x2="51.00" y2="267.82" stroke="#000" stroke-width="1.0"/><line x1="365.80" y1="267.82" x2="371.30" y2="267.82" stroke="#000" stroke-width="1.0"/><line x1="45.50" y1="260.33" x2="51.00" y2="260.33" stroke="#000" stroke-width="1.0"/><line x1="365.80" y1="260.33" x2="371.30" y2="260.33" stroke="#000" stroke-width="1.0"/><line x1="45.50" y1="254.51" x2="51.00" y2="254.51" stroke="#000" stroke-width="1.0"/><line x1="365.80" y1="254.51" x2="371.30" y2="254.51" stroke="#000" stroke-width="1.0"/><line x1="45.50" y1="249.76" x2="51.00" y2="249.76" stroke="#000" stroke-width="1.0"/><line x1="365.80" y1="249.76" x2="371.30" y2="249.76" stroke="#000" stroke-width="1.0"/><line x1="45.50" y1="245.74" x2="51.00" y2="245.74" stroke="#000" stroke-width="1.0"/><line x1="365.80" y1="245.74" x2="371.30" y2="245.74" stroke="#000" stroke-width="1.0"/><line x1="45.50" y1="242.26" x2="51.00" y2="242.26" stroke="#000" stroke-width="1.0"/><line x1="365.80" y1="242.26" x2="371.30" y2="242.26" stroke="#000" stroke-width="1.0"/><line x1="45.50" y1="239.20" x2="51.00" y2="239.20" stroke="#000" stroke-width="1.0"/><line x1="365.80" y1="239.20" x2="371.30" y2="239.20" stroke="#000" stroke-width="1.0"/><line x1="45.50" y1="236.45" x2="56.50" y2="236.45" stroke="#000" stroke-width="1.0"/><line x1="360.30" y1="236.45" x2="371.30" y2="236.45" stroke="#000" stroke-width="1.0"/><line x1="45.50" y1="218.39" x2="51.00" y2="218.39" stroke="#000" stroke-width="1.0"/><line x1="365.80" y1="218.39" x2="371.30" y2="218.39" stroke="#000" stroke-width="1.0"/><line x1="45.50" y1="207.82" x2="51.00" y2="207.82" stroke="#000" stroke-width="1.0"/><line x1="365.80" y1="207.82" x2="371.30" y2="207.82" stroke="#000" stroke-width="1.0"/><line x1="45.50" y1="200.33" x2="51.00" y2="200.33" stroke="#000" stroke-width="1.0"/><line x1="365.80" y1="200.33" x2="371.30" y2="200.33" stroke="#000" stroke-width="1.0"/><line x1="45.50" y1="194.51" x2="51.00" y2="194.51" stroke="#000" stroke-width="1.0"/><line x1="365.80" y1="194.51" x2="371.30" y2="194.51" stroke="#000" stroke-width="1.0"/><line x1="45.50" y1="189.76" x2="51.00" y2="189.76" stroke="#000" stroke-width="1.0"/><line x1="365.80" y1="189.76" x2="371.30" y2="189.76" stroke="#000" stroke-width="1.0"/><line x1="45.50" y1="185.74" x2="51.00" y2="185.74" stroke="#000" stroke-width="1.0"/><line x1="365.80" y1="185.74" x2="371.30" y2="185.74" stroke="#000" stroke-width="1.0"/><line x1="45.50" y1="182.26" x2="51.00" y2="182.26" stroke="#000" stroke-width="1.0"/><line x1="365.80" y1="182.26" x2="371.30" y2="182.26" stroke="#000" stroke-width="1.0"/><line x1="45.50" y1="179.20" x2="51.00" y2="179.20" stroke="#000" stroke-width="1.0"/><line x1="365.80" y1="179.20" x2="371.30" y2="179.20" stroke="#000" stroke-width="1.0"/><line x1="45.50" y1="176.45" x2="56.50" y2="176.45" stroke="#000" stroke-width="1.0"/><line x1="360.30" y1="176.45" x2="371.30" y2="176.45" stroke="#000" stroke-width="1.0"/><line x1="45.50" y1="158.39" x2="51.00" y2="158.39" stroke="#000" stroke-width="1.0"/><line x1="365.80" y1="158.39" x2="371.30" y2="158.39" stroke="#000" stroke-width="1.0"/><line x1="45.50" y1="147.82" x2="51.00" y2="147.82" stroke="#000" stroke-width="1.0"/><line x1="365.80" y1="147.82" x2="371.30" y2="147.82" stroke="#000" stroke-width="1.0"/><line x1="45.50" y1="140.33" x2="51.00" y2="140.33" stroke="#000" stroke-width="1.0"/><line x1="365.80" y1="140.33" x2="371.30" y2="140.33" stroke="#000" stroke-width="1.0"/><line x1="45.50" y1="134.51" x2="51.00" y2="134.51" stroke="#000" stroke-width="1.0"/><line x1="365.80" y1="134.51" x2="371.30" y2="134.51" stroke="#000" stroke-width="1.0"/><line x1="45.50" y1="129.76" x2="51.00" y2="129.76" stroke="#000" stroke-width="1.0"/><line x1="365.80" y1="129.76" x2="371.30" y2="129.76" stroke="#000" stroke-width="1.0"/><line x1="45.50" y1="125.74" x2="51.00" y2="125.74" stroke="#000" stroke-width="1.0"/><line x1="365.80" y1="125.74" x2="371.30" y2="125.74" stroke="#000" stroke-width="1.0"/><line x1="45.50" y1="122.26" x2="51.00" y2="122.26" stroke="#000" stroke-width="1.0"/><line x1="365.80" y1="122.26" x2="371.30" y2="122.26" stroke="#000" stroke-width="1.0"/><line x1="45.50" y1="119.20" x2="51.00" y2="119.20" stroke="#000" stroke-width="1.0"/><line x1="365.80" y1="119.20" x2="371.30" y2="119.20" stroke="#000" stroke-width="1.0"/><line x1="45.50" y1="116.45" x2="56.50" y2="116.45" stroke="#000" stroke-width="1.0"/><line x1="360.30" y1="116.45" x2="371.30" y2="116.45" stroke="#000" stroke-width="1.0"/><line x1="45.50" y1="98.39" x2="51.00" y2="98.39" stroke="#000" stroke-width="1.0"/><line x1="365.80" y1="98.39" x2="371.30" y2="98.39" stroke="#000" stroke-width="1.0"/><line x1="45.50" y1="87.82" x2="51.00" y2="87.82" stroke="#000" stroke-width="1.0"/><line x1="365.80" y1="87.82" x2="371.30" y2="87.82" stroke="#000" stroke-width="1.0"/><line x1="45.50" y1="80.33" x2="51.00" y2="80.33" stroke="#000" stroke-width="1.0"/><line x1="365.80" y1="80.33" x2="371.30" y2="80.33" stroke="#000" stroke-width="1.0"/><line x1="45.50" y1="74.51" x2="51.00" y2="74.51" stroke="#000" stroke-width="1.0"/><line x1="365.80" y1="74.51" x2="371.30" y2="74.51" stroke="#000" stroke-width="1.0"/><line x1="45.50" y1="69.76" x2="51.00" y2="69.76" stroke="#000" stroke-width="1.0"/><line x1="365.80" y1="69.76" x2="371.30" y2="69.76" stroke="#000" stroke-width="1.0"/><line x1="45.50" y1="65.74" x2="51.00" y2="65.74" stroke="#000" stroke-width="1.0"/><line x1="365.80" y1="65.74" x2="371.30" y2="65.74" stroke="#000" stroke-width="1.0"/><line x1="45.50" y1="62.26" x2="51.00" y2="62.26" stroke="#000" stroke-width="1.0"/><line x1="365.80" y1="62.26" x2="371.30" y2="62.26" stroke="#000" stroke-width="1.0"/><line x1="45.50" y1="59.20" x2="51.00" y2="59.20" stroke="#000" stroke-width="1.0"/><line x1="365.80" y1="59.20" x2="371.30" y2="59.20" stroke="#000" stroke-width="1.0"/><line x1="45.50" y1="56.45" x2="56.50" y2="56.45" stroke="#000" stroke-width="1.0"/><line x1="360.30" y1="56.45" x2="371.30" y2="56.45" stroke="#000" stroke-width="1.0"/><line x1="45.50" y1="38.39" x2="51.00" y2="38.39" stroke="#000" stroke-width="1.0"/><line x1="365.80" y1="38.39" x2="371.30" y2="38.39" stroke="#000" stroke-width="1.0"/><line x1="45.50" y1="27.82" x2="51.00" y2="27.82" stroke="#000" stroke-width="1.0"/><line x1="365.80" y1="27.82" x2="371.30" y2="27.82" stroke="#000" stroke-width="1.0"/><line x1="45.50" y1="20.33" x2="51.00" y2="20.33" stroke="#000" stroke-width="1.0"/><line x1="365.80" y1="20.33" x2="371.30" y2="20.33" stroke="#000" stroke-width="1.0"/><line x1="45.50" y1="458.51" x2="53.00" y2="458.51" stroke="#000" stroke-width="1.0"/><line x1="363.80" y1="458.51" x2="371.30" y2="458.51" stroke="#000" stroke-width="1.0"/><line x1="45.50" y1="442.59" x2="50.50" y2="442.59" stroke="#000" stroke-width="1.0"/><line x1="366.30" y1="442.59" x2="371.30" y2="442.59" stroke="#000" stroke-width="1.0"/><line x1="45.50" y1="429.14" x2="50.50" y2="429.14" stroke="#000" stroke-width="1.0"/><line x1="366.30" y1="429.14" x2="371.30" y2="429.14" stroke="#000" stroke-width="1.0"/><line x1="45.50" y1="417.48" x2="50.50" y2="417.48" stroke="#000" stroke-width="1.0"/><line x1="366.30" y1="417.48" x2="371.30" y2="417.48" stroke="#000" stroke-width="1.0"/><line x1="45.50" y1="407.20" x2="50.50" y2="407.20" stroke="#000" stroke-width="1.0"/><line x1="366.30" y1="407.20" x2="371.30" y2="407.20" stroke="#000" stroke-width="1.0"/><line x1="45.50" y1="398.00" x2="53.00" y2="398.00" stroke="#000" stroke-width="1.0"/><line x1="363.80" y1="398.00" x2="371.30" y2="398.00" stroke="#000" stroke-width="1.0"/><line x1="45.50" y1="389.68" x2="50.50" y2="389.68" stroke="#000" stroke-width="1.0"/><line x1="366.30" y1="389.68" x2="371.30" y2="389.68" stroke="#000" stroke-width="1.0"/><line x1="45.50" y1="382.08" x2="50.50" y2="382.08" stroke="#000" stroke-width="1.0"/><line x1="366.30" y1="382.08" x2="371.30" y2="382.08" stroke="#000" stroke-width="1.0"/><line x1="45.50" y1="375.10" x2="50.50" y2="375.10" stroke="#000" stroke-width="1.0"/><line x1="366.30" y1="375.10" x2="371.30" y2="375.10" stroke="#000" stroke-width="1.0"/><line x1="45.50" y1="368.63" x2="50.50" y2="368.63" stroke="#000" stroke-width="1.0"/><line x1="366.30" y1="368.63" x2="371.30" y2="368.63" stroke="#000" stroke-width="1.0"/><line x1="45.50" y1="362.61" x2="53.00" y2="362.61" stroke="#000" stroke-width="1.0"/><line x1="363.80" y1="362.61" x2="371.30" y2="362.61" stroke="#000" stroke-width="1.0"/><line x1="45.50" y1="356.97" x2="50.50" y2="356.97" stroke="#000" stroke-width="1.0"/><line x1="366.30" y1="356.97" x2="371.30" y2="356.97" stroke="#000" stroke-width="1.0"/><line x1="45.50" y1="351.68" x2="50.50" y2="351.68" stroke="#000" stroke-width="1.0"/><line x1="366.30" y1="351.68" x2="371.30" y2="351.68" stroke="#000" stroke-width="1.0"/><line x1="45.50" y1="346.69" x2="50.50" y2="346.69" stroke="#000" stroke-width="1.0"/><line x1="366.30" y1="346.69" x2="371.30" y2="346.69" stroke="#000" stroke-width="1.0"/><line x1="45.50" y1="341.97" x2="50.50" y2="341.97" stroke="#000" stroke-width="1.0"/><line x1="366.30" y1="341.97" x2="371.30" y2="341.97" stroke="#000" stroke-width="1.0"/><line x1="45.50" y1="337.49" x2="53.00" y2="337.49" stroke="#000" stroke-width="1.0"/><line x1="363.80" y1="337.49" x2="371.30" y2="337.49" stroke="#000" stroke-width="1.0"/><line x1="45.50" y1="333.23" x2="50.50" y2="333.23" stroke="#000" stroke-width="1.0"/><line x1="366.30" y1="333.23" x2="371.30" y2="333.23" stroke="#000" stroke-width="1.0"/><line x1="45.50" y1="329.17" x2="50.50" y2="329.17" stroke="#000" stroke-width="1.0"/><line x1="366.30" y1="329.17" x2="371.30" y2="329.17" stroke="#000" stroke-width="1.0"/><line x1="45.50" y1="325.29" x2="50.50" y2="325.29" stroke="#000" stroke-width="1.0"/><line x1="366.30" y1="325.29" x2="371.30" y2="325.29" stroke="#000" stroke-width="1.0"/><line x1="45.50" y1="321.58" x2="50.50" y2="321.58" stroke="#000" stroke-width="1.0"/><line x1="366.30" y1="321.58" x2="371.30" y2="321.58" stroke="#000" stroke-width="1.0"/><line x1="45.50" y1="318.01" x2="50.50" y2="318.01" stroke="#000" stroke-width="1.0"/><line x1="366.30" y1="318.01" x2="371.30" y2="318.01" stroke="#000" stroke-width="1.0"/><line x1="45.50" y1="17.50" x2="45.50" y2="21.50" stroke="#000" stroke-width="1.0"/><line x1="45.50" y1="317.50" x2="45.50" y2="313.50" stroke="#000" stroke-width="1.0"/><line x1="45.50" y1="317.50" x2="45.50" y2="320.30" stroke="#000" stroke-width="1.0"/><line x1="45.50" y1="477.80" x2="45.50" y2="475.00" stroke="#000" stroke-width="1.0"/><line x1="58.04" y1="17.50" x2="58.04" y2="19.50" stroke="#000" stroke-width="1.0"/><line x1="58.04" y1="317.50" x2="58.04" y2="315.50" stroke="#000" stroke-width="1.0"/><line x1="58.04" y1="317.50" x2="58.04" y2="319.00" stroke="#000" stroke-width="1.0"/><line x1="58.04" y1="477.80" x2="58.04" y2="476.30" stroke="#000" stroke-width="1.0"/><line x1="70.58" y1="17.50" x2="70.58" y2="21.50" stroke="#000" stroke-width="1.0"/><line x1="70.58" y1="317.50" x2="70.58" y2="313.50" stroke="#000" stroke-width="1.0"/><line x1="70.58" y1="317.50" x2="70.58" y2="320.30" stroke="#000" stroke-width="1.0"/><line x1="70.58" y1="477.80" x2="70.58" y2="475.00" stroke="#000" stroke-width="1.0"/><line x1="83.12" y1="17.50" x2="83.12" y2="19.50" stroke="#000" stroke-width="1.0"/><line x1="83.12" y1="317.50" x2="83.12" y2="315.50" stroke="#000" stroke-width="1.0"/><line x1="83.12" y1="317.50" x2="83.12" y2="319.00" stroke="#000" stroke-width="1.0"/><line x1="83.12" y1="477.80" x2="83.12" y2="476.30" stroke="#000" stroke-width="1.0"/><line x1="95.66" y1="17.50" x2="95.66" y2="21.50" stroke="#000" stroke-width="1.0"/><line x1="95.66" y1="317.50" x2="95.66" y2="313.50" stroke="#000" stroke-width="1.0"/><line x1="95.66" y1="317.50" x2="95.66" y2="320.30" stroke="#000" stroke-width="1.0"/><line x1="95.66" y1="477.80" x2="95.66" y2="475.00" stroke="#000" stroke-width="1.0"/><line x1="108.20" y1="17.50" x2="108.20" y2="19.50" stroke="#000" stroke-width="1.0"/><line x1="108.20" y1="317.50" x2="108.20" y2="315.50" stroke="#000" stroke-width="1.0"/><line x1="108.20" y1="317.50" x2="108.20" y2="319.00" stroke="#000" stroke-width="1.0"/><line x1="108.20" y1="477.80" x2="108.20" y2="476.30" stroke="#000" stroke-width="1.0"/><line x1="120.74" y1="17.50" x2="120.74" y2="25.50" stroke="#000" stroke-width="1.0"/><line x1="120.74" y1="317.50" x2="120.74" y2="309.50" stroke="#000" stroke-width="1.0"/><line x1="120.74" y1="317.50" x2="120.74" y2="323.00" stroke="#000" stroke-width="1.0"/><line x1="120.74" y1="477.80" x2="120.74" y2="472.30" stroke="#000" stroke-width="1.0"/><line x1="133.28" y1="17.50" x2="133.28" y2="19.50" stroke="#000" stroke-width="1.0"/><line x1="133.28" y1="317.50" x2="133.28" y2="315.50" stroke="#000" stroke-width="1.0"/><line x1="133.28" y1="317.50" x2="133.28" y2="319.00" stroke="#000" stroke-width="1.0"/><line x1="133.28" y1="477.80" x2="133.28" y2="476.30" stroke="#000" stroke-width="1.0"/><line x1="145.82" y1="17.50" x2="145.82" y2="21.50" stroke="#000" stroke-width="1.0"/><line x1="145.82" y1="317.50" x2="145.82" y2="313.50" stroke="#000" stroke-width="1.0"/><line x1="145.82" y1="317.50" x2="145.82" y2="320.30" stroke="#000" stroke-width="1.0"/><line x1="145.82" y1="477.80" x2="145.82" y2="475.00" stroke="#000" stroke-width="1.0"/><line x1="158.36" y1="17.50" x2="158.36" y2="19.50" stroke="#000" stroke-width="1.0"/><line x1="158.36" y1="317.50" x2="158.36" y2="315.50" stroke="#000" stroke-width="1.0"/><line x1="158.36" y1="317.50" x2="158.36" y2="319.00" stroke="#000" stroke-width="1.0"/><line x1="158.36" y1="477.80" x2="158.36" y2="476.30" stroke="#000" stroke-width="1.0"/><line x1="170.90" y1="17.50" x2="170.90" y2="21.50" stroke="#000" stroke-width="1.0"/><line x1="170.90" y1="317.50" x2="170.90" y2="313.50" stroke="#000" stroke-width="1.0"/><line x1="170.90" y1="317.50" x2="170.90" y2="320.30" stroke="#000" stroke-width="1.0"/><line x1="170.90" y1="477.80" x2="170.90" y2="475.00" stroke="#000" stroke-width="1.0"/><line x1="183.44" y1="17.50" x2="183.44" y2="19.50" stroke="#000" stroke-width="1.0"/><line x1="183.44" y1="317.50" x2="183.44" y2="315.50" stroke="#000" stroke-width="1.0"/><line x1="183.44" y1="317.50" x2="183.44" y2="319.00" stroke="#000" stroke-width="1.0"/><line x1="183.44" y1="477.80" x2="183.44" y2="476.30" stroke="#000" stroke-width="1.0"/><line x1="195.98" y1="17.50" x2="195.98" y2="21.50" stroke="#000" stroke-width="1.0"/><line x1="195.98" y1="317.50" x2="195.98" y2="313.50" stroke="#000" stroke-width="1.0"/><line x1="195.98" y1="317.50" x2="195.98" y2="320.30" stroke="#000" stroke-width="1.0"/><line x1="195.98" y1="477.80" x2="195.98" y2="475.00" stroke="#000" stroke-width="1.0"/><line x1="208.52" y1="17.50" x2="208.52" y2="19.50" stroke="#000" stroke-width="1.0"/><line x1="208.52" y1="317.50" x2="208.52" y2="315.50" stroke="#000" stroke-width="1.0"/><line x1="208.52" y1="317.50" x2="208.52" y2="319.00" stroke="#000" stroke-width="1.0"/><line x1="208.52" y1="477.80" x2="208.52" y2="476.30" stroke="#000" stroke-width="1.0"/><line x1="221.06" y1="17.50" x2="221.06" y2="21.50" stroke="#000" stroke-width="1.0"/><line x1="221.06" y1="317.50" x2="221.06" y2="313.50" stroke="#000" stroke-width="1.0"/><line x1="221.06" y1="317.50" x2="221.06" y2="320.30" stroke="#000" stroke-width="1.0"/><line x1="221.06" y1="477.80" x2="221.06" y2="475.00" stroke="#000" stroke-width="1.0"/><line x1="233.60" y1="17.50" x2="233.60" y2="19.50" stroke="#000" stroke-width="1.0"/><line x1="233.60" y1="317.50" x2="233.60" y2="315.50" stroke="#000" stroke-width="1.0"/><line x1="233.60" y1="317.50" x2="233.60" y2="319.00" stroke="#000" stroke-width="1.0"/><line x1="233.60" y1="477.80" x2="233.60" y2="476.30" stroke="#000" stroke-width="1.0"/><line x1="246.14" y1="17.50" x2="246.14" y2="25.50" stroke="#000" stroke-width="1.0"/><line x1="246.14" y1="317.50" x2="246.14" y2="309.50" stroke="#000" stroke-width="1.0"/><line x1="246.14" y1="317.50" x2="246.14" y2="323.00" stroke="#000" stroke-width="1.0"/><line x1="246.14" y1="477.80" x2="246.14" y2="472.30" stroke="#000" stroke-width="1.0"/><line x1="258.68" y1="17.50" x2="258.68" y2="19.50" stroke="#000" stroke-width="1.0"/><line x1="258.68" y1="317.50" x2="258.68" y2="315.50" stroke="#000" stroke-width="1.0"/><line x1="258.68" y1="317.50" x2="258.68" y2="319.00" stroke="#000" stroke-width="1.0"/><line x1="258.68" y1="477.80" x2="258.68" y2="476.30" stroke="#000" stroke-width="1.0"/><line x1="271.22" y1="17.50" x2="271.22" y2="21.50" stroke="#000" stroke-width="1.0"/><line x1="271.22" y1="317.50" x2="271.22" y2="313.50" stroke="#000" stroke-width="1.0"/><line x1="271.22" y1="317.50" x2="271.22" y2="320.30" stroke="#000" stroke-width="1.0"/><line x1="271.22" y1="477.80" x2="271.22" y2="475.00" stroke="#000" stroke-width="1.0"/><line x1="283.76" y1="17.50" x2="283.76" y2="19.50" stroke="#000" stroke-width="1.0"/><line x1="283.76" y1="317.50" x2="283.76" y2="315.50" stroke="#000" stroke-width="1.0"/><line x1="283.76" y1="317.50" x2="283.76" y2="319.00" stroke="#000" stroke-width="1.0"/><line x1="283.76" y1="477.80" x2="283.76" y2="476.30" stroke="#000" stroke-width="1.0"/><line x1="296.30" y1="17.50" x2="296.30" y2="21.50" stroke="#000" stroke-width="1.0"/><line x1="296.30" y1="317.50" x2="296.30" y2="313.50" stroke="#000" stroke-width="1.0"/><line x1="296.30" y1="317.50" x2="296.30" y2="320.30" stroke="#000" stroke-width="1.0"/><line x1="296.30" y1="477.80" x2="296.30" y2="475.00" stroke="#000" stroke-width="1.0"/><line x1="308.84" y1="17.50" x2="308.84" y2="19.50" stroke="#000" stroke-width="1.0"/><line x1="308.84" y1="317.50" x2="308.84" y2="315.50" stroke="#000" stroke-width="1.0"/><line x1="308.84" y1="317.50" x2="308.84" y2="319.00" stroke="#000" stroke-width="1.0"/><line x1="308.84" y1="477.80" x2="308.84" y2="476.30" stroke="#000" stroke-width="1.0"/><line x1="321.38" y1="17.50" x2="321.38" y2="21.50" stroke="#000" stroke-width="1.0"/><line x1="321.38" y1="317.50" x2="321.38" y2="313.50" stroke="#000" stroke-width="1.0"/><line x1="321.38" y1="317.50" x2="321.38" y2="320.30" stroke="#000" stroke-width="1.0"/><line x1="321.38" y1="477.80" x2="321.38" y2="475.00" stroke="#000" stroke-width="1.0"/><line x1="333.92" y1="17.50" x2="333.92" y2="19.50" stroke="#000" stroke-width="1.0"/><line x1="333.92" y1="317.50" x2="333.92" y2="315.50" stroke="#000" stroke-width="1.0"/><line x1="333.92" y1="317.50" x2="333.92" y2="319.00" stroke="#000" stroke-width="1.0"/><line x1="333.92" y1="477.80" x2="333.92" y2="476.30" stroke="#000" stroke-width="1.0"/><line x1="346.46" y1="17.50" x2="346.46" y2="21.50" stroke="#000" stroke-width="1.0"/><line x1="346.46" y1="317.50" x2="346.46" y2="313.50" stroke="#000" stroke-width="1.0"/><line x1="346.46" y1="317.50" x2="346.46" y2="320.30" stroke="#000" stroke-width="1.0"/><line x1="346.46" y1="477.80" x2="346.46" y2="475.00" stroke="#000" stroke-width="1.0"/><line x1="359.00" y1="17.50" x2="359.00" y2="19.50" stroke="#000" stroke-width="1.0"/><line x1="359.00" y1="317.50" x2="359.00" y2="315.50" stroke="#000" stroke-width="1.0"/><line x1="359.00" y1="317.50" x2="359.00" y2="319.00" stroke="#000" stroke-width="1.0"/><line x1="359.00" y1="477.80" x2="359.00" y2="476.30" stroke="#000" stroke-width="1.0"/></g>
<rect x="45.5" y="17.5" width="325.8" height="460.3" fill="none" stroke="#000" stroke-width="1.2"/>
<line x1="45.5" y1="317.5" x2="371.3" y2="317.5" stroke="#000" stroke-width="1.2"/>
<line x1="44.9" y1="477.8" x2="371.90000000000003" y2="477.8" stroke="#000" stroke-width="1.5"/>
<g font-family="Liberation Sans, sans-serif" fill="#000">
<text x="51.1" y="13.9" font-size="12.2">13000 GeV pp</text>
<text x="367" y="13.9" font-size="12.2" text-anchor="end">Z (Drell-Yan)</text>
<text x="82.3" y="42.4" font-size="12">Transmin region, 20 &lt; p</text>
<text x="206" y="35.2" font-size="7.6">Z</text>
<text x="206.3" y="48.8" font-size="8">T</text>
<text x="214.2" y="42.4" font-size="12">&lt; 40 [GeV], high thrust</text>
<text x="40.2" y="61" font-size="11" text-anchor="end">10</text>
<text x="37.7" y="120.5" font-size="11" text-anchor="end">1</text>
<text x="33.2" y="181.9" font-size="11" text-anchor="end">10</text>
<text x="32.6" y="176.70000000000002" font-size="7.5">&#8722;1</text>
<text x="33.2" y="241.9" font-size="11" text-anchor="end">10</text>
<text x="32.6" y="236.70000000000002" font-size="7.5">&#8722;2</text>
<text x="33.2" y="301.8" font-size="11" text-anchor="end">10</text>
<text x="32.6" y="296.6" font-size="7.5">&#8722;3</text>
<text x="38.3" y="340.9" font-size="11" text-anchor="end">2</text>
<text x="38.3" y="402" font-size="11" text-anchor="end">1</text>
<text x="38.3" y="462.4" font-size="11" text-anchor="end">0.5</text>
<text x="120.9" y="488.7" font-size="11" text-anchor="middle">1</text>
<text x="246.3" y="488.7" font-size="11" text-anchor="middle">2</text>
<text x="371.5" y="488.7" font-size="11" text-anchor="middle">3</text>
<text x="289.1" y="500.7" font-size="12.3">Mean p</text>
<text x="330.2" y="507.7" font-size="8.4">T</text>
<text x="334.6" y="500.7" font-size="12">/dη dϕ</text>
<text transform="translate(15.3,166.5) rotate(-90)" font-size="12">1/N</text>
<text transform="translate(18.7,148.6) rotate(-90)" font-size="8.5">ev</text>
<text transform="translate(15.3,137.5) rotate(-90)" font-size="12">dN</text>
<text transform="translate(18.5,121.6) rotate(-90)" font-size="7.4">ev</text>
<text transform="translate(15.3,117.3) rotate(-90)" font-size="12">/d</text>
<text transform="translate(15.3,100.3) rotate(-90)" font-size="12">mean p</text>
<text transform="translate(21.9,60.9) rotate(-90)" font-size="7.8">T</text>
<text transform="translate(15.3,52.0) rotate(-90)" font-size="12">[GeV]</text>
<text transform="translate(8.9,21.0) rotate(-90)" font-size="8.2">1</text>
<text transform="translate(18,427) rotate(-90)" font-size="9.2">Ratio to ATLAS</text>
<rect x="73.8" y="240.8" width="5.3" height="5.2" fill="#000"/>
<text x="94.4" y="246.7" font-size="9.5">ATLAS</text>
<line x1="64" y1="256.4" x2="88.6" y2="256.4" stroke="#0000e6" stroke-width="1.0"/>
<path d="M73.40,259.00 L79.20,259.00 L76.30,253.60 Z" fill="#0000e6"/>
<text x="94.4" y="258.6" font-size="9.45">Pythia 8.315 default</text>
<line x1="64" y1="269.5" x2="88.6" y2="269.5" stroke="#0c9cc2" stroke-width="1.2" stroke-dasharray="4,1.7,1,1.7"/>
<path d="M73.50,266.90 L79.30,266.90 L76.40,272.30 Z" fill="#0c9cc2"/>
<text x="94.4" y="271.1" font-size="9.45">Pythia 8.315 vincia-default</text>
</g>
<text x="163.0" y="301.5" font-size="8.05" fill="#888" font-family="Liberation Sans, sans-serif">(ATLAS_2019_I1736531)</text>
<text transform="translate(380.3,127) rotate(-90)" font-size="9.4" fill="#777" font-family="Liberation Sans, sans-serif">Rivet 4.1.0, ≥ 2.6M events</text>
<text transform="translate(381,313.2) rotate(-90)" font-size="9.4" fill="#777" font-family="Liberation Sans, sans-serif">mcplots.cern.ch [arXiv:2401.10621]</text>
</svg></body></html>
